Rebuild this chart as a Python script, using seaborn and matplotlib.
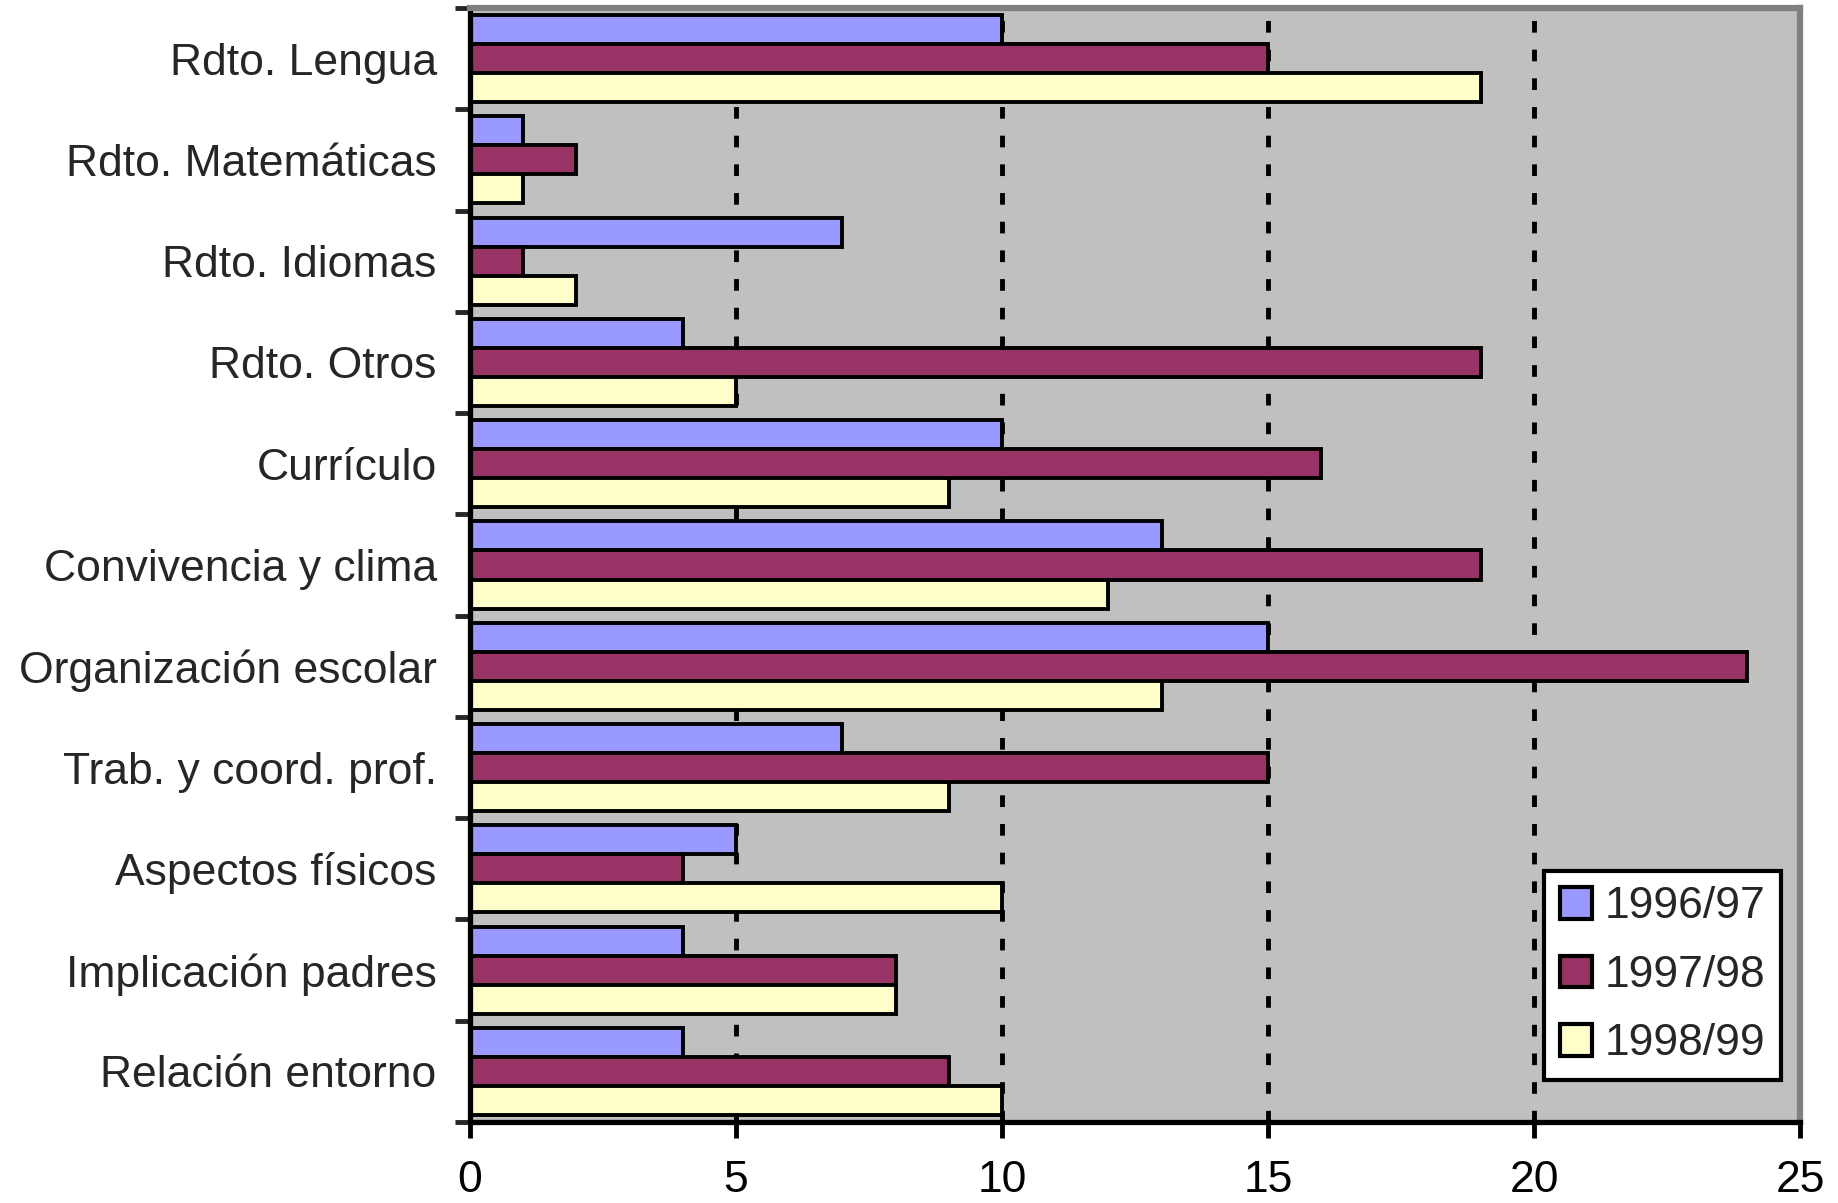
import matplotlib
matplotlib.use("Agg")
import matplotlib.pyplot as plt
from matplotlib.patches import Patch
from matplotlib.ticker import FixedLocator
import seaborn as sns
import pandas as pd

categories = ["Rdto. Lengua", "Rdto. Matemáticas", "Rdto. Idiomas", "Rdto. Otros",
              "Currículo", "Convivencia y clima", "Organización escolar",
              "Trab. y coord. prof.", "Aspectos físicos", "Implicación padres",
              "Relación entorno"]
series = ["1996/97", "1997/98", "1998/99"]
v_1996_97 = [10, 1, 7, 4, 10, 13, 15, 7, 5, 4, 4]
v_1997_98 = [15, 2, 1, 19, 16, 19, 24, 15, 4, 8, 9]
v_1998_99 = [19, 1, 2, 5, 9, 12, 13, 9, 10, 8, 10]
x_ticks = [0, 5, 10, 15, 20, 25]
colors = ["#9999FF", "#993366", "#FFFFCC"]

rows = []
for s, vals in zip(series, [v_1996_97, v_1997_98, v_1998_99]):
    for c, v in zip(categories, vals):
        rows.append({"cat": c, "serie": s, "val": v})
df = pd.DataFrame(rows)

sns.set_style("white")
plt.rcParams["font.family"] = ["Liberation Sans", "DejaVu Sans"]

fig = plt.figure(figsize=(18.38, 12.03), dpi=100)
ax = fig.add_axes([470/1838, (1203-1122)/1203, 1330/1838, 1114/1203])
ax.set_facecolor("#C0C0C0")

sns.barplot(data=df, y="cat", x="val", hue="serie", order=categories,
            hue_order=series, palette=colors, orient="h", width=0.86,
            gap=0, edgecolor="black", linewidth=2.8, saturation=1,
            errorbar=None, legend=False, ax=ax, zorder=2)

ax.set_xlim(0, 25)
ax.set_ylim(len(categories) - 0.5, -0.5)
for t in x_ticks[1:-1]:
    ax.axvline(t, color="black", lw=3.5, linestyle=(0, (2.4, 3.5)), zorder=0.5)

ax.set_xticks(x_ticks)
ax.set_xticklabels([str(t) for t in x_ticks])
ax.tick_params(axis="x", direction="out", length=11.5, width=3.5, pad=16,
               labelsize=32, colors="black", bottom=True)
ax.yaxis.set_minor_locator(FixedLocator([i - 0.5 for i in range(len(categories) + 1)]))
ax.tick_params(axis="y", which="major", length=0, pad=24, labelsize=32)
ax.tick_params(axis="y", which="minor", direction="out", length=11, width=3.5, left=True)
ax.set_xlabel("")
ax.set_ylabel("")

for side in ["left", "bottom"]:
    ax.spines[side].set_color("black")
    ax.spines[side].set_linewidth(3.8)
for side in ["top", "right"]:
    ax.spines[side].set_visible(True)
    ax.spines[side].set_color("#808080")
    ax.spines[side].set_linewidth(4.5)

handles = [Patch(facecolor=c, edgecolor="black", linewidth=3) for c in colors]
leg = ax.legend(handles, series, loc="lower right", bbox_to_anchor=(0.986, 0.0377),
                fontsize=32, frameon=True, fancybox=False, handlelength=0.72,
                handleheight=0.72, handletextpad=0.3, labelspacing=0.62,
                borderpad=0.35, borderaxespad=0)
leg.get_frame().set_edgecolor("black")
leg.get_frame().set_linewidth(3)
leg.get_frame().set_facecolor("white")
leg.get_frame().set_alpha(1)

fig.savefig("out.png", dpi=100)
